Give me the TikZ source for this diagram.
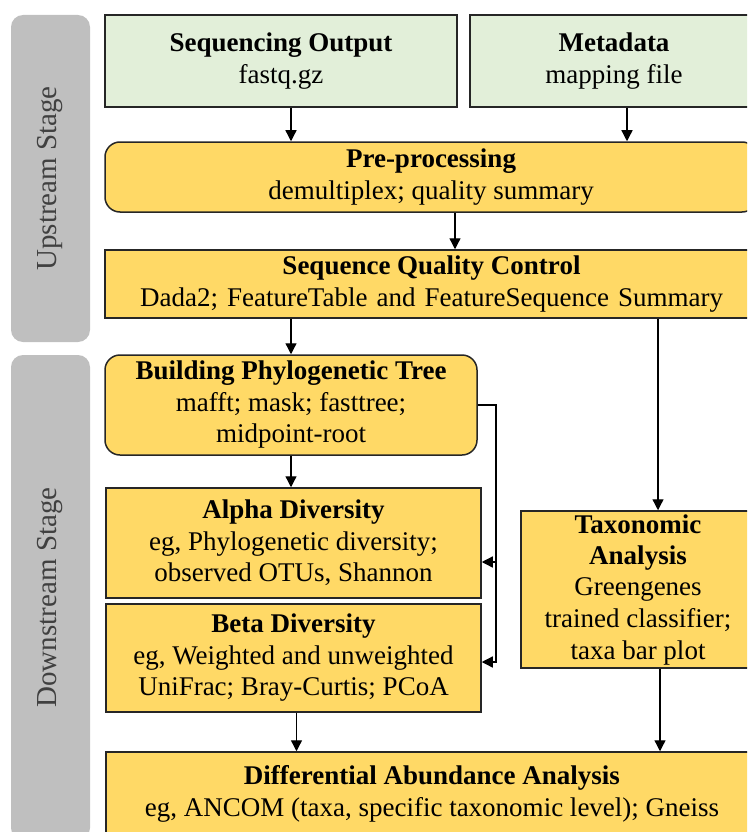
\documentclass[tikz,border=0pt]{standalone}
\usepackage{fontspec}
\setmainfont{Liberation Serif}
\usetikzlibrary{arrows.meta}
\definecolor{boxgold}{HTML}{FFD966}
\definecolor{boxgreen}{HTML}{E2EFD9}
\definecolor{stagegray}{HTML}{BFBFBF}
\definecolor{stagetext}{HTML}{404040}
\definecolor{edgegray}{HTML}{262626}
\begin{document}
\begin{tikzpicture}[x=1pt, y=-1pt,
  font=\fontsize{27}{31.5}\selectfont,
  stage/.style={fill=stagegray, rounded corners=12pt, inner sep=0pt, text=stagetext, font=\fontsize{29}{33}\selectfont},
  inbox/.style={draw=edgegray, line width=1.5pt, fill=boxgreen, inner sep=0pt, align=center},
  stepbox/.style={draw=edgegray, line width=1.5pt, fill=boxgold, inner sep=0pt, align=center},
  arr/.style={-{Triangle[length=11pt,width=11pt]}, line width=1.3pt}]
  \useasboundingbox (0,0) rectangle (747,832);
  \clip (0,0) rectangle (747,832);

  \node[stage, rotate=90, minimum width=327pt, minimum height=79pt] (up) at (50.5,178.5) {Upstream Stage};
  \node[stage, rotate=90, minimum width=485pt, minimum height=79pt] (down) at (50.5,597.5) {Downstream Stage};

  \node[inbox, minimum width=352pt, minimum height=92pt] (seq) at (281,61) {\textbf{Sequencing Output}\\fastq.gz};
  \node[inbox, minimum width=288pt, minimum height=92pt] (meta) at (614,61) {\textbf{Metadata}\\mapping file};
  \node[stepbox, rounded corners=15pt, minimum width=652pt, minimum height=70pt] (pre) at (431,177) {\textbf{Pre-processing}\\demultiplex; quality summary};
  \node[stepbox, minimum width=653pt, minimum height=68pt] (qc) at (431.5,284) {\textbf{Sequence Quality Control}\\{\spaceskip=9pt plus 1pt Dada2; FeatureTable and FeatureSequence Summary}};
  \node[stepbox, rounded corners=15pt, minimum width=372pt, minimum height=100pt] (tree) at (291,405) {\textbf{Building Phylogenetic Tree}\\mafft; mask; fasttree;\\midpoint-root};
  \node[stepbox, minimum width=375pt, minimum height=110pt] (alpha) at (293.5,543) {\textbf{Alpha Diversity}\\eg, Phylogenetic diversity;\\observed OTUs, Shannon};
  \node[stepbox, minimum width=375pt, minimum height=108pt] (beta) at (293.5,658) {\textbf{Beta Diversity}\\eg, Weighted and unweighted\\UniFrac; Bray-Curtis; PCoA};
  \node[stepbox, minimum width=234pt, minimum height=157pt] (tax) at (638,589.5) {\textbf{Taxonomic}\\\textbf{Analysis}\\Greengenes\\trained classifier;\\taxa bar plot};
  \node[stepbox, minimum width=652pt, minimum height=84pt] (diff) at (432,794) {\textbf{Differential Abundance Analysis}\\eg, ANCOM (taxa, specific taxonomic level); Gneiss};

  \coordinate (bus) at (496,405);
  \coordinate (busA) at (496,562);
  \coordinate (busB) at (496,662);

  \draw[arr] (seq.south -| tree.north) -- (tree.north |- pre.north);
  \draw[arr] ([xshift=13pt]meta.south) -- ([xshift=13pt]meta.south |- pre.north);
  \draw[arr] ([xshift=24pt]pre.south) -- ([xshift=24pt]pre.south |- qc.north);
  \draw[arr] (qc.south -| tree.north) -- (tree.north);
  \draw[arr] ([xshift=20pt]tax.north |- qc.south) -- ([xshift=20pt]tax.north);
  \draw[arr] (tree.south) -- (tree.south |- alpha.north);
  \draw[arr] (busA) -- (busA -| alpha.east);
  \draw[arr] (tree.east) -- (bus) -- (busB) -- (busB -| beta.east);
  \draw[arr] ([xshift=3pt]beta.south) -- ([xshift=3pt]beta.south |- diff.north);
  \draw[arr] ([xshift=22pt]tax.south) -- ([xshift=22pt]tax.south |- diff.north);

\end{tikzpicture}
\end{document}
